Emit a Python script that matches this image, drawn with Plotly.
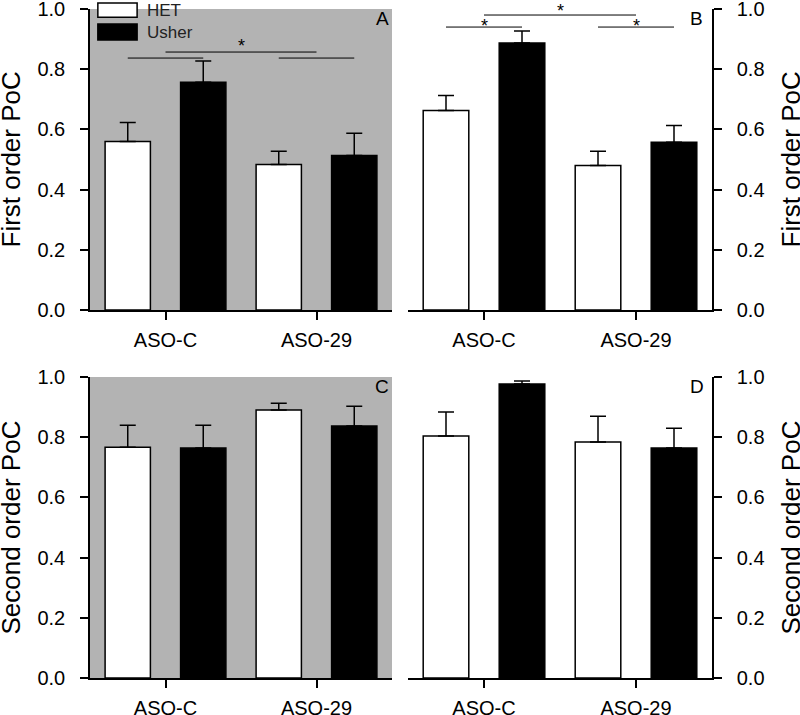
import plotly.graph_objects as go

categories = ["ASO-C", "ASO-29"]
series_names = ["HET", "Usher"]

# Panel A (first order, grey)
a_het = [0.56, 0.483]
a_het_err = [0.063, 0.044]
a_ush = [0.757, 0.513]
a_ush_err = [0.07, 0.074]
# Panel B (first order, white)
b_het = [0.663, 0.48]
b_het_err = [0.05, 0.047]
b_ush = [0.887, 0.557]
b_ush_err = [0.04, 0.056]
# Panel C (second order, grey)
c_het = [0.767, 0.89]
c_het_err = [0.073, 0.023]
c_ush = [0.764, 0.837]
c_ush_err = [0.076, 0.066]
# Panel D (second order, white)
d_het = [0.804, 0.784]
d_het_err = [0.08, 0.086]
d_ush = [0.977, 0.764]
d_ush_err = [0.01, 0.066]

# significance brackets: (x0, x1, y)
a_sig_lines = [(-0.25, 0.25, 0.837), (0.0, 1.0, 0.857), (0.75, 1.25, 0.837)]
a_sig_stars = [(0.5, 0.877)]
b_sig_lines = [(-0.25, 0.25, 0.94), (0.0, 1.0, 0.98), (0.75, 1.25, 0.94)]
b_sig_stars = [(0.0, 0.942), (0.5, 0.993), (1.0, 0.942)]

y_ticks = [0.0, 0.2, 0.4, 0.6, 0.8, 1.0]

W, H = 800, 715
FONT = "Liberation Sans, Arial, sans-serif"
GREY = "#b3b3b3"

def px_x(a, b):
    return [a / W, b / W]

def px_y(top, bottom):
    return [1 - bottom / H, 1 - top / H]

panels = [
    dict(name="A", het=a_het, he=a_het_err, ush=a_ush, ue=a_ush_err, x=px_x(90, 392), y=px_y(9, 310), side="left", grey=True),
    dict(name="B", het=b_het, he=b_het_err, ush=b_ush, ue=b_ush_err, x=px_x(408, 712), y=px_y(9, 310), side="right", grey=False),
    dict(name="C", het=c_het, he=c_het_err, ush=c_ush, ue=c_ush_err, x=px_x(90, 392), y=px_y(377, 678), side="left", grey=True),
    dict(name="D", het=d_het, he=d_het_err, ush=d_ush, ue=d_ush_err, x=px_x(408, 712), y=px_y(377, 678), side="right", grey=False),
]

fig = go.Figure()
shapes = []
annotations = []

for i, p in enumerate(panels):
    n = "" if i == 0 else str(i + 1)
    xa, ya = "x" + n, "y" + n
    for nm, vals, errs, fill in [("HET", p["het"], p["he"], "white"), ("Usher", p["ush"], p["ue"], "black")]:
        fig.add_trace(go.Bar(
            x=categories, y=vals, name=nm, xaxis=xa, yaxis=ya, showlegend=False,
            marker=dict(color=fill, line=dict(color="black", width=1.5)),
            error_y=dict(type="data", array=errs, arrayminus=[0] * len(errs), symmetric=False,
                         color="black", thickness=1.5, width=8),
        ))
    axkey = "xaxis" + n
    aykey = "yaxis" + n
    fig.layout[axkey] = dict(
        domain=p["x"], anchor=ya, range=[-0.5, 1.5], type="category",
        showline=True, linecolor="black", linewidth=1.5, ticks="outside", ticklen=8, tickwidth=1.5,
        tickcolor="black", showgrid=False, zeroline=False, ticklabelstandoff=3,
        tickfont=dict(family=FONT, size=20, color="black"), automargin=False,
        ticklabeloverflow="allow",
    )
    fig.layout[aykey] = dict(
        domain=p["y"], anchor=xa, range=[0, 1], side=p["side"], tickvals=y_ticks, tickformat=".1f",
        showline=True, linecolor="black", linewidth=1.5, ticks="outside", ticklen=8, tickwidth=1.5,
        tickcolor="black", showgrid=False, zeroline=False, ticklabelstandoff=11,
        tickfont=dict(family=FONT, size=20, color="black"), automargin=False,
        ticklabeloverflow="allow",
    )
    if p["grey"]:
        shapes.append(dict(type="rect", xref=xa + " domain", yref=ya + " domain", x0=0, x1=1, y0=0, y1=1,
                           fillcolor=GREY, line=dict(width=0), layer="below"))
    lx = 0.967 if p["side"] == "left" else 0.95
    annotations.append(dict(text=p["name"], xref=xa + " domain", yref=ya + " domain", x=lx, y=0.968,
                            showarrow=False, font=dict(family=FONT, size=19, color="black"),
                            xanchor="center", yanchor="middle"))
    # axis titles
    title = "First order PoC" if i < 2 else "Second order PoC"
    tx = 10 / W if p["side"] == "left" else 790 / W
    annotations.append(dict(text=title, xref="paper", yref="paper", x=tx, y=(p["y"][0] + p["y"][1]) / 2,
                            textangle=-90, showarrow=False, font=dict(family=FONT, size=26, color="black"),
                            xanchor="center", yanchor="middle"))

for (x0, x1, y) in a_sig_lines:
    shapes.append(dict(type="line", xref="x", yref="y", x0=x0, x1=x1, y0=y, y1=y, line=dict(color="black", width=1)))
for (x, y) in a_sig_stars:
    annotations.append(dict(text="*", xref="x", yref="y", x=x, y=y, showarrow=False,
                            font=dict(family=FONT, size=18, color="black"), yanchor="middle"))
for (x0, x1, y) in b_sig_lines:
    shapes.append(dict(type="line", xref="x2", yref="y2", x0=x0, x1=x1, y0=y, y1=y, line=dict(color="black", width=1)))
for (x, y) in b_sig_stars:
    annotations.append(dict(text="*", xref="x2", yref="y2", x=x, y=y, showarrow=False,
                            font=dict(family=FONT, size=18, color="black"), yanchor="middle"))

# manual legend in panel A
leg_items = [("HET", "white", 1.02, 0.973), ("Usher", "black", 0.95, 0.897)]
for name, col, y1, y0 in leg_items:
    shapes.append(dict(type="rect", xref="x domain", yref="y domain", x0=0.026, x1=0.156, y0=y0, y1=y1,
                       fillcolor=col, line=dict(color="black", width=1.5)))
    annotations.append(dict(text=name, xref="x domain", yref="y domain", x=0.183, y=(y0 + y1) / 2,
                            showarrow=False, xanchor="left", yanchor="middle",
                            font=dict(family=FONT, size=17, color="#222")))

fig.update_layout(
    width=W, height=H, margin=dict(l=0, r=0, t=0, b=0),
    paper_bgcolor="white", plot_bgcolor="rgba(0,0,0,0)",
    barmode="group", bargap=0.0, bargroupgap=0.4,
    shapes=shapes, annotations=annotations, showlegend=False, hovermode=False,
    font=dict(family=FONT, color="black"),
)

fig.write_html("out.html", config={"displayModeBar": False},
               post_script="document.body.style.margin='0';")
